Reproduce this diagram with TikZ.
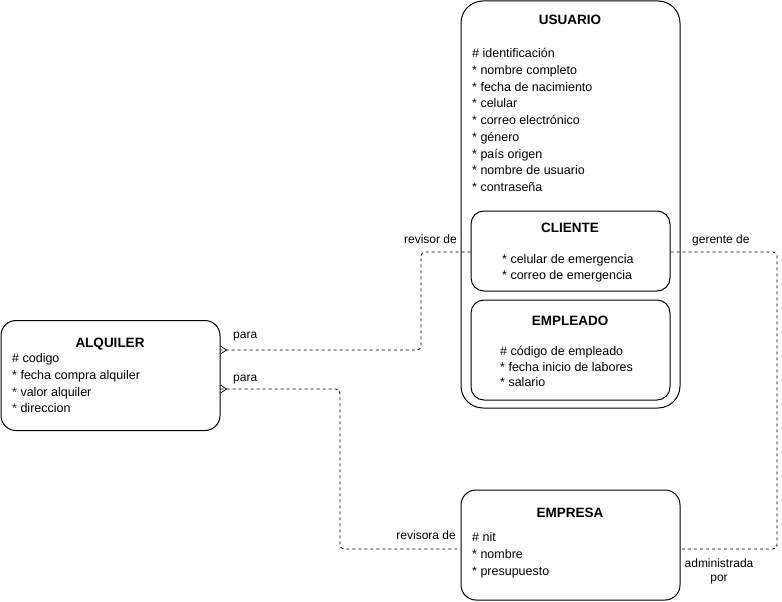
\documentclass[tikz,border=0pt]{standalone}
\usepackage{fontspec}
\setmainfont{Liberation Sans}
\begin{document}
\begin{tikzpicture}[x=1pt,y=-1pt,
  ent/.style={draw=black, line width=1pt, fill=white},
  ttl/.style={font=\fontsize{13.5}{16}\selectfont\bfseries, anchor=base, inner sep=0pt},
  attr/.style={font=\fontsize{12.5}{16.75}\selectfont, anchor=base west, inner sep=0pt, align=left},
  lbl/.style={font=\fontsize{12}{14}\selectfont, inner sep=0pt},
  rel/.style={line width=0.9pt, dash pattern=on 3pt off 3pt, rounded corners=4pt}]
\useasboundingbox (0,0) rectangle (782,602);
% boxes
\node[ent, rounded corners=22pt, minimum width=219pt, minimum height=407pt] (usuario) at (570.5,204.5) {};
\node[ent, rounded corners=13pt, minimum width=199pt, minimum height=80pt] (cliente) at (570.5,251) {};
\node[ent, rounded corners=13pt, minimum width=199pt, minimum height=100pt] (empleado) at (570.5,350) {};
\node[ent, rounded corners=15pt, minimum width=219pt, minimum height=110pt] (alquiler) at (110.5,375.5) {};
\node[ent, rounded corners=15pt, minimum width=219pt, minimum height=110pt] (empresa) at (570.5,545) {};
% texts (base anchor = baseline of last line)
\node[ttl] (tu) at (570,25) {USUARIO};
\node[attr] (au) at (472,191.5) {\# identificación\\* nombre completo\\* fecha de nacimiento\\* celular\\* correo electrónico\\* género\\* país origen\\* nombre de usuario\\* contraseña};
\node[ttl] (tc) at (570,232) {CLIENTE};
\node[attr, font=\fontsize{12.5}{15.5}\selectfont] (ac) at (502,279) {* celular de emergencia\\* correo de emergencia};
\node[ttl] (te) at (570,325) {EMPLEADO};
\node[attr, font=\fontsize{12.5}{15.5}\selectfont] (ae) at (500,386.5) {\# código de empleado\\* fecha inicio de labores\\* salario};
\node[ttl] (ta) at (110,347) {ALQUILER};
\node[attr] (aa) at (12,412.75) {\# codigo\\* fecha compra alquiler\\* valor alquiler\\* direccion};
\node[ttl] (tem) at (570,517) {EMPRESA};
\node[attr] (aem) at (472,575) {\# nit\\* nombre\\* presupuesto};
% connectors
\coordinate (a1) at ([yshift=25.5pt]alquiler.east);
\coordinate (a2) at ([yshift=-13.5pt]alquiler.east);
\coordinate (c1) at (cliente.west |- 0,252);
\coordinate (c2) at (cliente.east |- 0,252);
\coordinate (e1) at (empresa.west |- 0,549);
\coordinate (e2) at (empresa.east |- 0,549);
\draw[rel] (c1) -- (421,252) -- (421,350) -- (a1);
\draw[rel] (a2) -- (340,389) -- (340,549) -- (e1);
\draw[rel] (c2) -- (777,252) -- (777,549) -- (e2);
% crow's feet
\draw[line width=0.8pt] ([yshift=-4pt]a1) -- ([xshift=6pt]a1) -- ([yshift=4pt]a1);
\draw[line width=0.8pt] ([yshift=-4pt]a2) -- ([xshift=6pt]a2) -- ([yshift=4pt]a2);
% labels
\node[lbl, anchor=base east] (l1) at (457,243) {revisor de};
\node[lbl, anchor=base west] (l2) at (233,338) {para};
\node[lbl, anchor=base west] (l3) at (233,381) {para};
\node[lbl, anchor=base east] (l4) at (456,539) {revisora de};
\node[lbl, anchor=base west] (l5) at (692,243) {gerente de};
\node[lbl, anchor=base, align=center, font=\fontsize{12}{14}\selectfont] (l6) at (719,581) {administrada\\por};
\end{tikzpicture}
\end{document}
